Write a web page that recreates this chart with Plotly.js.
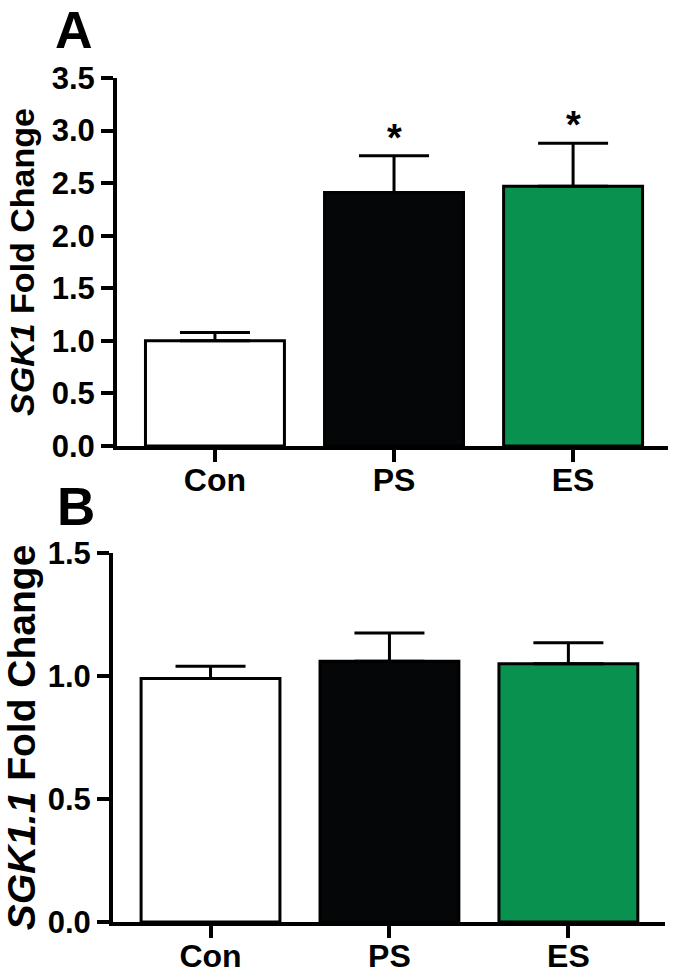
<!DOCTYPE html>
<html>
<head>
<meta charset="utf-8">
<script src="https://cdn.plot.ly/plotly-3.0.1.min.js"></script>
<style>html,body{margin:0;padding:0;background:#fff;}#chart{width:675px;height:977px;}</style>
</head>
<body>
<div id="chart"></div>
<script>
var categories = ['Con', 'PS', 'ES'];
var barColors = ['#ffffff', '#050607', '#08914f'];

// Panel A: SGK1 fold change
var sgk1Values = [1.00, 2.41, 2.47];
var sgk1Errors = [0.08, 0.35, 0.41];
var sgk1Sig = ['', '*', '*'];

// Panel B: SGK1.1 fold change
var sgk11Values = [0.99, 1.06, 1.05];
var sgk11Errors = [0.05, 0.115, 0.085];

var yTicksA = [0, 0.5, 1.0, 1.5, 2.0, 2.5, 3.0, 3.5];
var yTicksB = [0, 0.5, 1.0, 1.5];

var FONT = 'Liberation Sans, Arial, Helvetica, sans-serif';

function barTrace(vals, errs, xa, ya) {
  return {
    type: 'bar',
    x: categories,
    y: vals,
    xaxis: xa,
    yaxis: ya,
    width: 0.776,
    marker: {color: barColors, line: {color: '#000', width: 3}},
    error_y: {
      type: 'data', symmetric: false, array: errs,
      arrayminus: vals.map(function () { return 0; }),
      color: '#000', thickness: 3, width: 35
    },
    hoverinfo: 'skip',
    showlegend: false
  };
}

var traces = [
  barTrace(sgk1Values, sgk1Errors, 'x', 'y'),
  barTrace(sgk11Values, sgk11Errors, 'x2', 'y2')
];

function xAxis(domain, anchor, range) {
  return {
    domain: domain, anchor: anchor, type: 'category', range: range,
    showline: true, linewidth: 4, linecolor: '#000',
    ticks: 'outside', ticklen: 12, tickwidth: 4, tickcolor: '#000',
    ticklabelstandoff: -9,
    showgrid: false, zeroline: false,
    tickfont: {family: FONT, size: 32, color: '#000', weight: 'bold'},
    fixedrange: true
  };
}
function yAxis(domain, anchor, range, ticks, title, tsize) {
  return {
    domain: domain, anchor: anchor, range: range,
    tickvals: ticks, ticktext: ticks.map(function (v) { return v.toFixed(1); }),
    showline: true, linewidth: 4, linecolor: '#000',
    ticks: 'outside', ticklen: 12, tickwidth: 4, tickcolor: '#000',
    showgrid: false, zeroline: false,
    tickfont: {family: FONT, size: 31, color: '#000', weight: 'bold'},
    title: {text: title, font: {family: FONT, size: tsize, color: '#000', weight: 'bold'}, standoff: 8},
    fixedrange: true
  };
}

var W = 675, H = 977;
var layout = {
  width: W, height: H,
  margin: {l: 0, r: 0, t: 0, b: 0},
  paper_bgcolor: '#fff', plot_bgcolor: '#fff',
  font: {family: FONT, color: '#000'},
  bargap: 0,
  xaxis: xAxis([117 / W, 668 / W], 'y', [-0.547, 2.53]),
  yaxis: yAxis([1 - 446 / H, 1 - 78 / H], 'x', [0, 3.5], yTicksA, '<i>SGK1</i> Fold Change', 34),
  xaxis2: xAxis([113 / W, 665 / W], 'y2', [-0.545, 2.54]),
  yaxis2: yAxis([1 - 922 / H, 1 - 553 / H], 'x2', [0, 1.5], yTicksB, '<i>SGK1.1</i> Fold Change', 39),
  annotations: [
    {text: 'A', xref: 'paper', yref: 'paper', x: 74 / W, y: 1, xanchor: 'center', yanchor: 'top',
     showarrow: false, borderpad: 0, font: {family: FONT, size: 52, color: '#000', weight: 'bold'}},
    {text: 'B', xref: 'paper', yref: 'paper', x: 76 / W, y: 1 - 506 / H, xanchor: 'center', yanchor: 'middle',
     showarrow: false, font: {family: FONT, size: 53, color: '#000', weight: 'bold'}}
  ]
};

categories.forEach(function (c, i) {
  if (sgk1Sig[i]) {
    layout.annotations.push({
      text: sgk1Sig[i], xref: 'x', yref: 'y', x: c, y: sgk1Values[i] + sgk1Errors[i],
      xanchor: 'center', yanchor: 'bottom', yshift: -5, showarrow: false,
      font: {family: FONT, size: 38, color: '#000', weight: 'bold'}
    });
  }
});

Plotly.newPlot('chart', traces, layout, {staticPlot: true, displayModeBar: false});
</script>
</body>
</html>
